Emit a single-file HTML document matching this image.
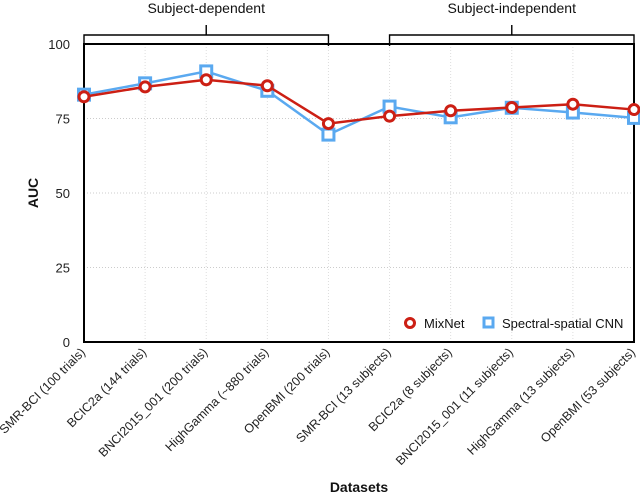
<!DOCTYPE html>
<html><head><meta charset="utf-8"><style>
body{margin:0;background:#fff}
svg{font-family:"Liberation Sans",sans-serif;display:block}
</style></head><body>
<svg id="c" width="640" height="495"></svg>
<script>
const categories=["SMR-BCI (100 trials)","BCIC2a (144 trials)","BNCI2015_001 (200 trials)","HighGamma (~880 trials)","OpenBMI (200 trials)","SMR-BCI (13 subjects)","BCIC2a (8 subjects)","BNCI2015_001 (11 subjects)","HighGamma (13 subjects)","OpenBMI (53 subjects)"];
const mixnet=[82.3,85.6,88.0,86.0,73.3,75.8,77.6,78.7,79.8,78.0];
const cnn=[83.0,86.8,90.8,84.3,69.6,79.0,75.4,78.6,77.0,75.2];
const yTicks=[0,25,50,75,100];
const groups=[{label:"Subject-dependent",from:0,to:4},{label:"Subject-independent",from:5,to:9}];

const NS="http://www.w3.org/2000/svg",svg=document.getElementById('c');
const L=84,R=634,T=44,B=342;
const x=i=>L+i*(R-L)/(categories.length-1);
const y=v=>B-(v/100)*(B-T);
function el(t,a,p){const e=document.createElementNS(NS,t);for(const k in a)e.setAttribute(k,a[k]);(p||svg).appendChild(e);return e;}

categories.forEach((c,i)=>{const g=el('line',{x1:x(i),x2:x(i),y1:T,y2:B,stroke:'#ddd','stroke-dasharray':'1,2'});

});
yTicks.forEach(v=>{
 if(v>0&&v<100){const g=el('line',{x1:L,x2:R,y1:y(v),y2:y(v),stroke:'#ccc','stroke-dasharray':'1,2'});
 
 }
 const t=el('text',{x:L-14,y:y(v)+5,'text-anchor':'end','font-size':13,fill:'#222'});t.textContent=v;
 
 
});
const frame=el('rect',{x:L,y:T,width:R-L,height:B-T,fill:'none',stroke:'#000','stroke-width':2});



groups.forEach(gr=>{
 const a=x(gr.from),b=x(gr.to),m=(a+b)/2;
 const p=el('path',{d:`M${a},46V35H${b}V46M${m},35V25`,fill:'none',stroke:'#000','stroke-width':1.4});
 
 
 const t=el('text',{x:m,y:13,'text-anchor':'middle','font-size':14,fill:'#111'});t.textContent=gr.label;
 
 
});

function series(vals,color,shape,name){
 const pl=el('polyline',{points:vals.map((v,i)=>x(i)+','+y(v)).join(' '),fill:'none',stroke:color,'stroke-width':2.5});
 
 
 vals.forEach((v,i)=>{
  let m;
  if(shape==='c')m=el('circle',{cx:x(i),cy:y(v),r:5,fill:'#fff',stroke:color,'stroke-width':3});
  else m=el('rect',{x:x(i)-5.5,y:y(v)-5.5,width:11,height:11,fill:'#fff',stroke:color,'stroke-width':3});
  
  
 });
}
series(cnn,'#5aa9f0','s','cnn');
series(mixnet,'#cc1f14','c','mixnet');

const lg=el('g',{});


el('circle',{cx:410,cy:323,r:4.5,fill:'#fff',stroke:'#cc1f14','stroke-width':3},lg);
let t1=el('text',{x:424,y:328,'font-size':13,fill:'#111'},lg);t1.textContent='MixNet';


el('rect',{x:484,y:318,width:9,height:9,fill:'#fff',stroke:'#5aa9f0','stroke-width':3},lg);
let t2=el('text',{x:502,y:328,'font-size':13,fill:'#111'},lg);t2.textContent='Spectral-spatial CNN';



categories.forEach((c,i)=>{
 const t=el('text',{x:x(i)+2,y:353,'text-anchor':'end','font-size':12.5,fill:'#222',transform:`rotate(-45 ${x(i)+2} 353)`});t.textContent=c;
 
 
});
const xt=el('text',{x:359,y:492,'text-anchor':'middle','font-size':14,'font-weight':'bold',fill:'#111'});xt.textContent='Datasets';


const yt=el('text',{x:38,y:193,'text-anchor':'middle','font-size':14,'font-weight':'bold',fill:'#111',transform:'rotate(-90 38 193)'});yt.textContent='AUC';


</script>
</body></html>
